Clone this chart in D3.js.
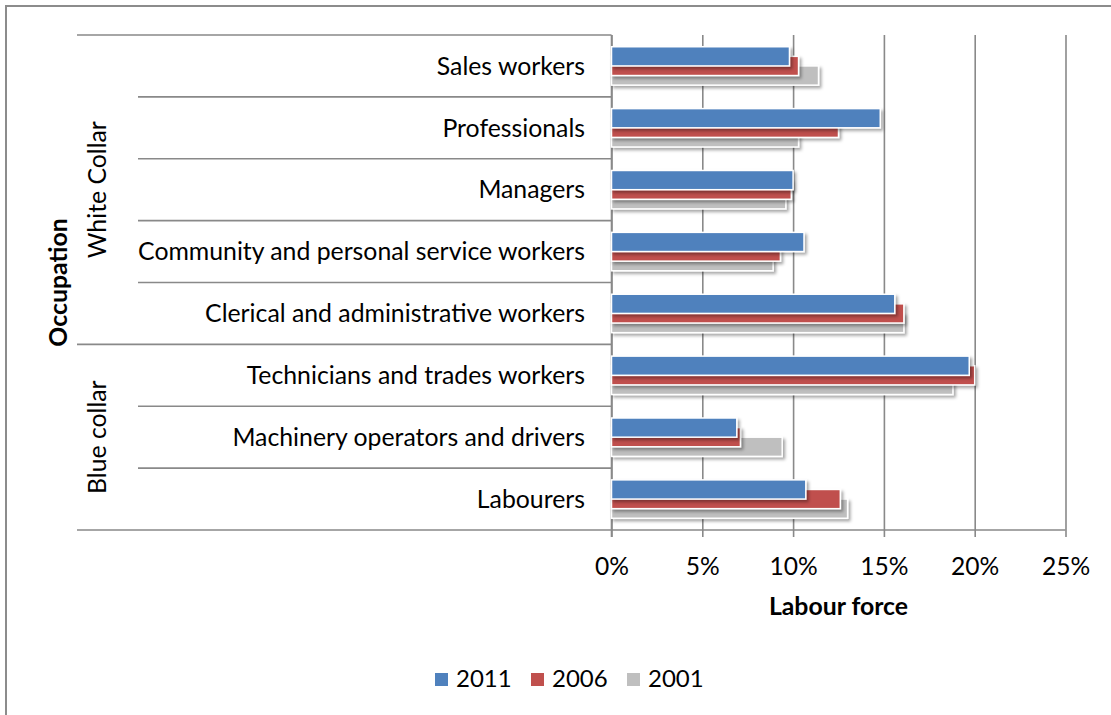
<!DOCTYPE html>
<html>
<head>
<meta charset="utf-8">
<script src="https://cdn.jsdelivr.net/npm/d3@7"></script>
<style>
  html, body { margin: 0; padding: 0; background: #fff; }
  svg { display: block; font-family: Lato, "Open Sans", sans-serif; }
</style>
</head>
<body>
<svg id="chart" width="1111" height="715"></svg>
<script>
// Occupations, top to bottom
const categories = [
  "Sales workers",
  "Professionals",
  "Managers",
  "Community and personal service workers",
  "Clerical and administrative workers",
  "Technicians and trades workers",
  "Machinery operators and drivers",
  "Labourers"
];
// Occupation groups and how many categories each spans
const groupNames = ["White Collar", "Blue collar"];
const groupSizes = [5, 3];

// Share of labour force (%) by census year
const years = ["2011", "2006", "2001"];
const v2011 = [9.8, 14.8, 10.0, 10.6, 15.6, 19.7, 6.9, 10.7];
const v2006 = [10.3, 12.5, 9.9, 9.3, 16.1, 20.0, 7.1, 12.6];
const v2001 = [11.4, 10.3, 9.6, 8.9, 16.1, 18.8, 9.4, 13.0];
const seriesValues = [v2011, v2006, v2001];

const tickValues = [0, 5, 10, 15, 20, 25];
const tickLabels = ["0%", "5%", "10%", "15%", "20%", "25%"];

const colors = ["#4F81BD", "#C0504D", "#BFBFBF"];
const lineColor = "#898989";

const svg = d3.select("#chart");

// drop shadow for bars
const defs = svg.append("defs");
const f = defs.append("filter").attr("id", "shadow")
  .attr("x", "-5%").attr("y", "-30%").attr("width", "115%").attr("height", "180%");
f.append("feDropShadow").attr("dx", 2.2).attr("dy", 2.4)
  .attr("stdDeviation", 1.6).attr("flood-color", "#000").attr("flood-opacity", 0.35);

// outer chart frame
svg.append("rect")
  .attr("x", 6).attr("y", 6).attr("width", 1130).attr("height", 740)
  .attr("fill", "none").attr("stroke", "#8c8c8c").attr("stroke-width", 2);

const plot = { left: 611.5, right: 1065.5, top: 35, bottom: 530 };

const x = d3.scaleLinear().domain([0, 25]).range([plot.left, plot.right]);
const y = d3.scaleBand().domain(categories).range([plot.top, plot.bottom]).paddingInner(0).paddingOuter(0);

// vertical gridlines + x axis
const xAxis = d3.axisBottom(x)
  .tickValues(tickValues)
  .tickFormat((d, i) => tickLabels[i])
  .tickSize(-(plot.bottom - plot.top))
  .tickSizeOuter(0);
const gx = svg.append("g").attr("transform", `translate(0,${plot.bottom})`).call(xAxis);
gx.select(".domain").remove();
gx.selectAll(".tick line")
  .attr("stroke", lineColor).attr("stroke-width", 1.6)
  .attr("y2", -(plot.bottom - plot.top)).attr("y1", 7);
gx.selectAll(".tick text")
  .attr("y", 45).attr("dy", null)
  .attr("font-size", 24.6).attr("fill", "#000")
  .attr("font-family", "Lato, sans-serif");

// horizontal category boundaries (multi-level axis)
const bounds = d3.range(categories.length + 1).map(i => plot.top + i * y.bandwidth());
const groupEdges = [0];
groupSizes.forEach(s => groupEdges.push(groupEdges[groupEdges.length - 1] + s));
svg.append("g").selectAll("line").data(bounds).join("line")
  .attr("x1", (d, i) => groupEdges.includes(i) ? 77 : 138)
  .attr("x2", (d, i) => i === categories.length ? plot.right : plot.left)
  .attr("y1", d => d).attr("y2", d => d)
  .attr("stroke", lineColor).attr("stroke-width", 1.6);

// value axis line
svg.append("line")
  .attr("x1", plot.left).attr("x2", plot.left)
  .attr("y1", plot.top).attr("y2", plot.bottom + 7)
  .attr("stroke", lineColor).attr("stroke-width", 1.6);

// bars: three overlapping per category, 2001 behind, 2011 in front
const barH = 19.2;
const step = barH / 2;
const groupH = barH + step * (years.length - 1);
const rows = [];
categories.forEach((c, ci) => {
  for (let s = years.length - 1; s >= 0; s--) {
    rows.push({ cat: c, s, v: seriesValues[s][ci] });
  }
});
svg.append("g").selectAll("rect").data(rows).join("rect")
  .attr("x", x(0))
  .attr("y", d => y(d.cat) + (y.bandwidth() - groupH) / 2 + d.s * step)
  .attr("width", d => x(d.v) - x(0))
  .attr("height", barH)
  .attr("fill", d => colors[d.s])
  .attr("stroke", "#fff").attr("stroke-width", 1.5)
  .attr("filter", "url(#shadow)");

// category labels
svg.append("g").selectAll("text").data(categories).join("text")
  .attr("x", 585)
  .attr("y", d => y(d) + y.bandwidth() / 2 + 8.8)
  .attr("text-anchor", "end")
  .attr("font-size", 24.8).attr("fill", "#000")
  .text(d => d);

// group labels, rotated
svg.append("g").selectAll("text").data(groupNames).join("text")
  .attr("transform", (d, i) => {
    const cy = plot.top + (groupEdges[i] + groupSizes[i] / 2) * y.bandwidth();
    return `translate(105.5,${cy}) rotate(-90)`;
  })
  .attr("text-anchor", "middle")
  .attr("font-size", 24.8).attr("fill", "#000")
  .text(d => d);

// axis titles
svg.append("text")
  .attr("transform", `translate(67,${(plot.top + plot.bottom) / 2}) rotate(-90)`)
  .attr("text-anchor", "middle")
  .attr("font-size", 24.8).attr("font-weight", "bold").attr("fill", "#000")
  .text("Occupation");
svg.append("text")
  .attr("x", (plot.left + plot.right) / 2).attr("y", 615)
  .attr("text-anchor", "middle")
  .attr("font-size", 24.8).attr("font-weight", "bold").attr("fill", "#000")
  .text("Labour force");

// legend
const legend = svg.append("g").selectAll("g").data(years).join("g")
  .attr("transform", (d, i) => `translate(${435 + i * 96},673)`);
legend.append("rect")
  .attr("width", 13).attr("height", 13)
  .attr("fill", (d, i) => colors[i]);
legend.append("text")
  .attr("x", 21).attr("y", 13.5)
  .attr("font-size", 24).attr("fill", "#000")
  .text(d => d);
</script>
</body>
</html>
